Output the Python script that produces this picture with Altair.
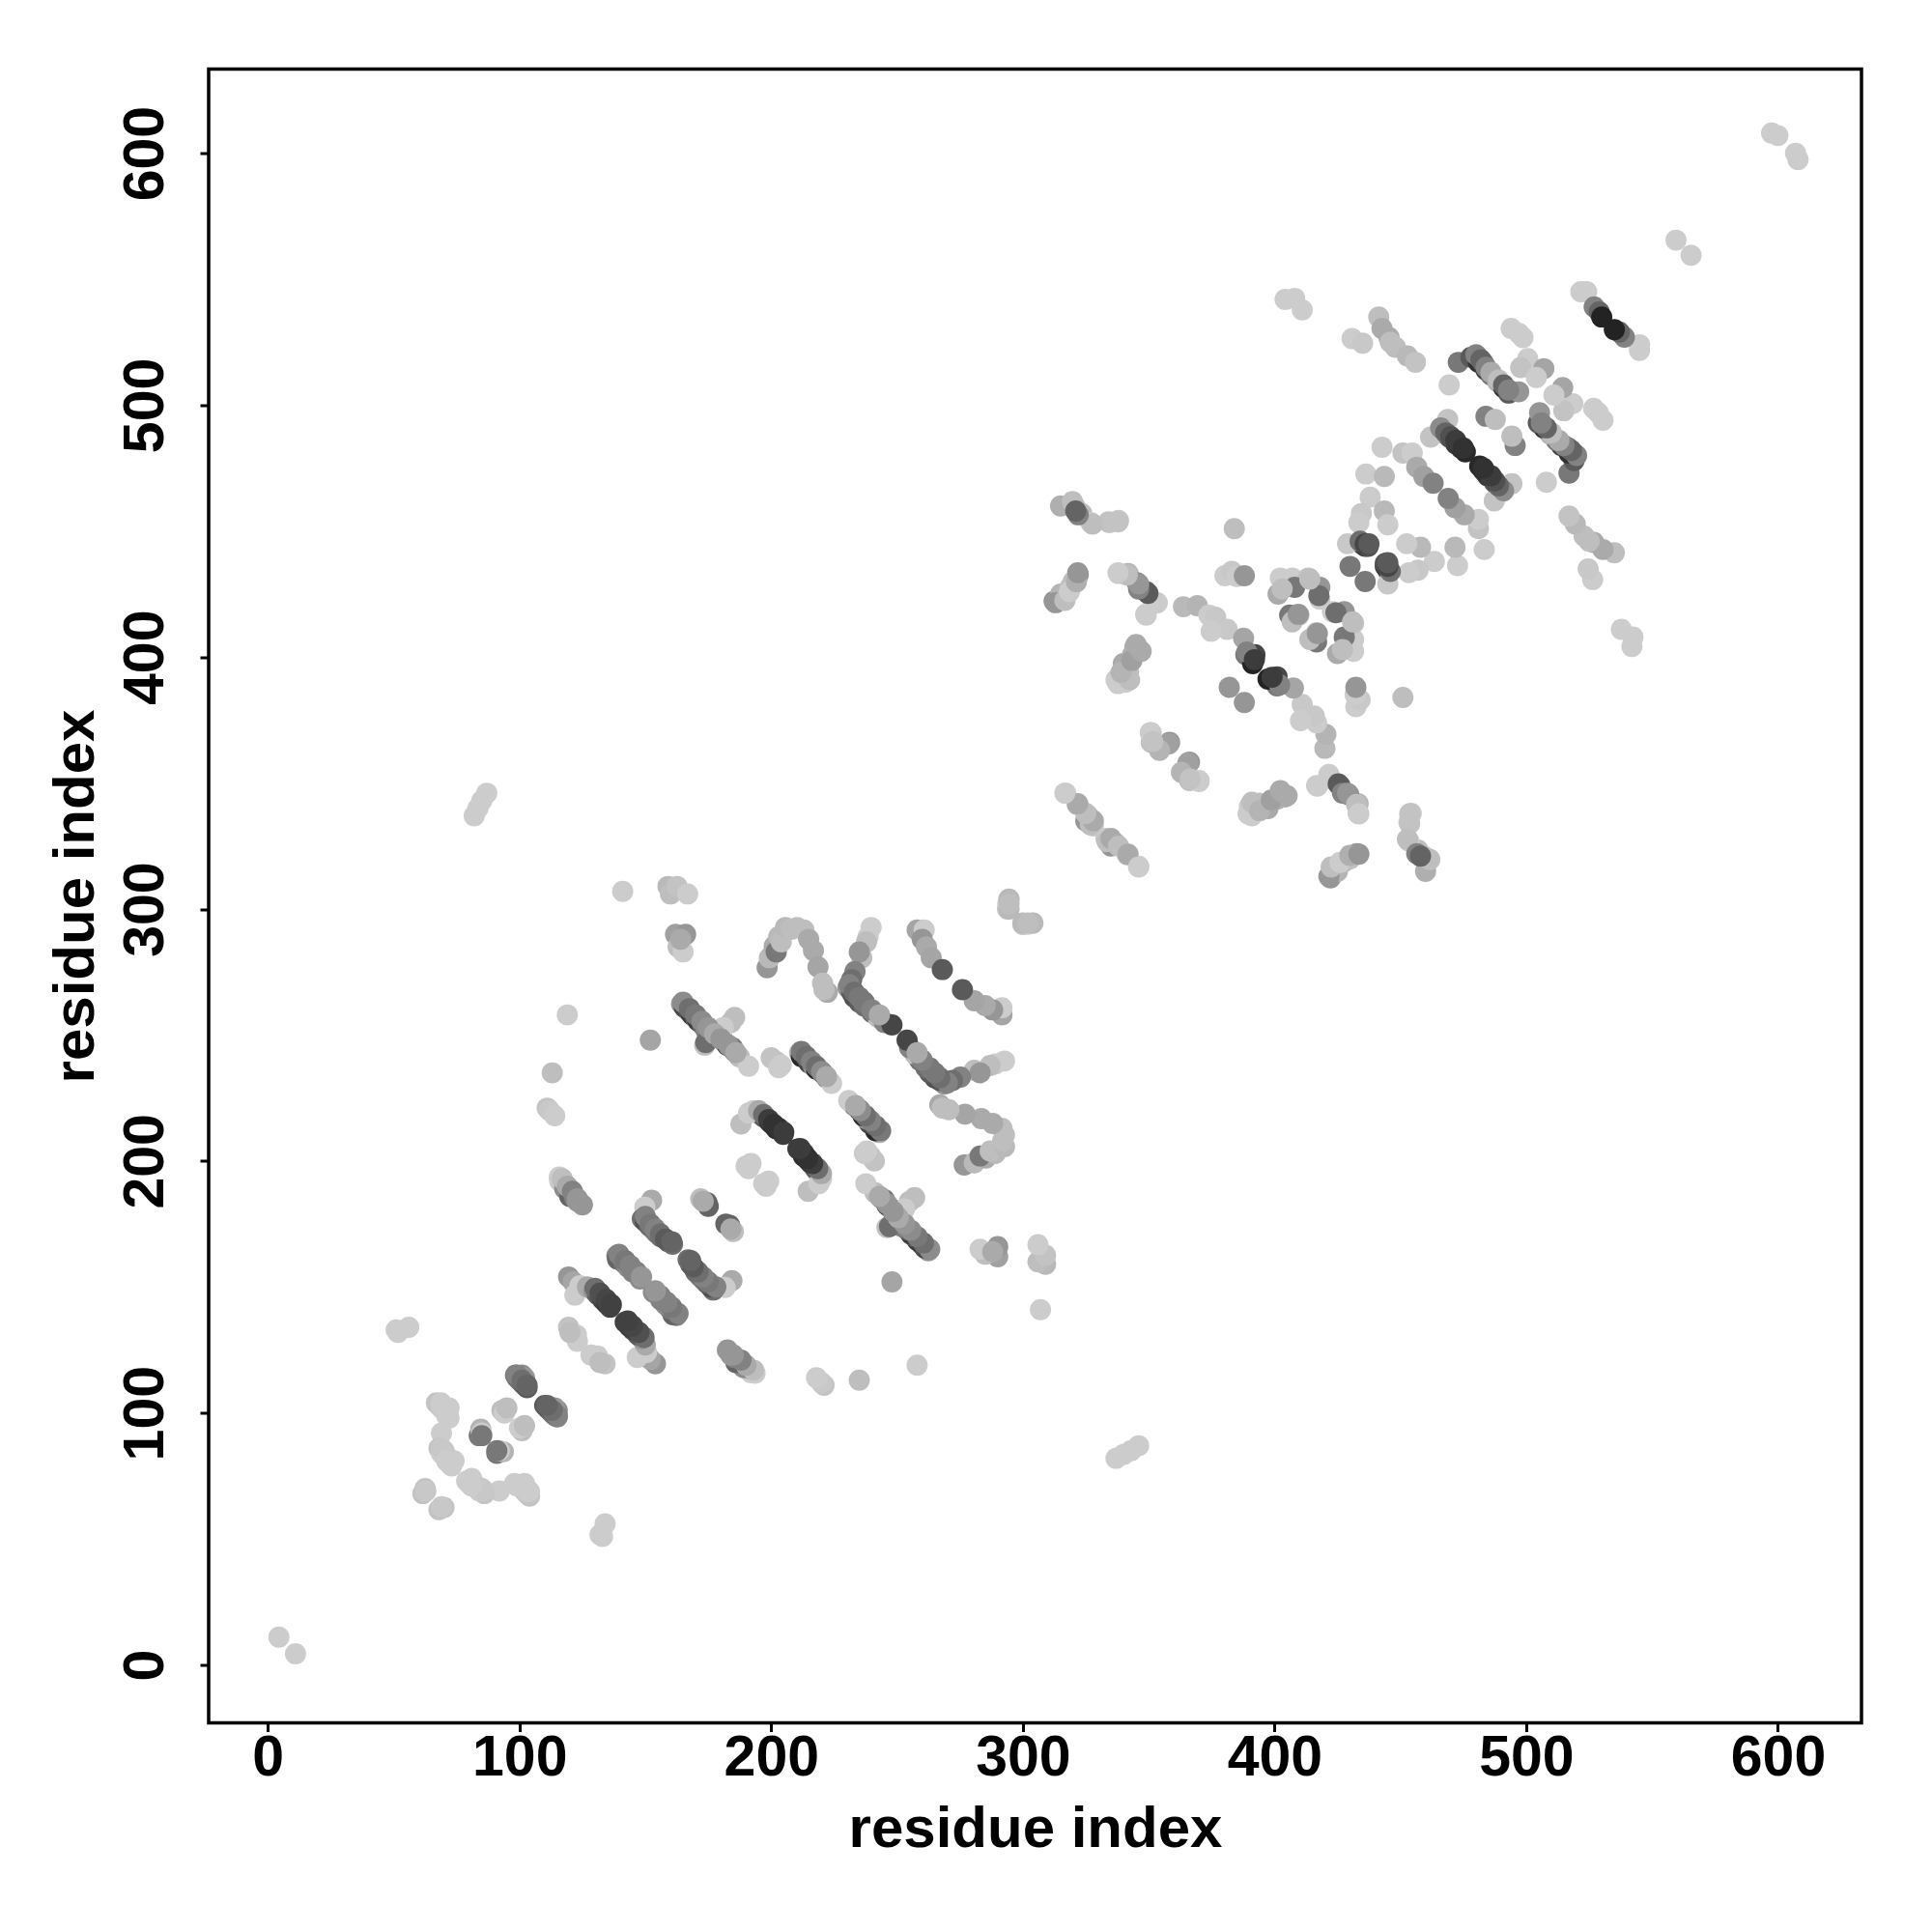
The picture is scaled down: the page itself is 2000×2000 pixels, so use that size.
import altair as alt
import pandas as pd

# contact pairs: (residue i, residue j, grey level 0-255)
ends = [(4.4,11,204),(597.5,608,204),(600,607,204),(559.5,565.5,204),
        (51.7,132,204),(56,134,204),(82,337,204),(83.5,340,204),(85,343,204),(87,346,204)]
block_n = [(61.6,68,195),(62.5,70,195),(62.8,69,200),(67,104,195),(68,103,195),(69,102,200),(71,99,204),
           (72,98,204),(69,92,204),(68,86,195),(69,84,204),(71,83,204),(74,81,204),(73,79,204),
           (70,85,200),(69,86,200),(71,81,204),(72,80,204),(84,91,120),(84.6,93.6,180),(85,92,204),
           (91,85,120),(93,101,190),(94,100,204),(95,102,190),(68.8,104,204),(72,102,204),(69,103,204),
           (98.4,115,130),(99,114,120),(100,113,110),(101,112,110),(102,111,100),(103,110,90),(101,115,140),(102,114,150),
           (51,133,204)]
block_a = [(115.8,193.6,204),(116,192,204),(117.6,190.8,190),(118,189,140),(120.4,188,170),(120,186,100),(122,185.3,130),
           (123,184,150),(125,182.6,150),(113,235,190),(111,221,195),(112,220,200),(114,218,204),
           (119,258,204),(141,307,204),(159,309,185),(160,306,190),(162.6,309,195),(166.8,306,204),(152,248,165),
           (162,290,160),(166,290,150),(163,285,190),(165,283,204),(164,288,170),
           (119.5,154,150),(121.3,152,165),(124,150.5,204),(122,146.8,204),(127,150,170),(129.5,148.6,150),(131,147,90),
           (133,145,70),(134.5,143.5,60),(136,142,65),
           (119.5,134,195),(122.6,131,204),(123,128.4,204),(120,132,190),
           (138.7,162.4,130),(139,161,100),(141.5,159.6,120),(143,158,140),(145,156,130),(147.9,153.2,140),
           (152.5,184.4,170),(149.8,181.7,204),(148.8,177,110),(150,176,80),(151.6,174.3,100),(153,173,110),
           (154.3,171.6,120),(156,170,110),(157,169.7,110),(159,168,90),(160.8,167,110),
           (172,185,190),(174.5,183.5,100),(175,182,100),(173,184,170)]
streaks_mid = [(164.4,262.4,150),(165.5,261,70),(167.2,259.6,80),(168.5,258,60),(170,256.9,90),(171,255.5,60),(172.7,254.1,100),
               (174,252,130),(176.4,250.5,110),(177,249,90),(181,247.7,120),(182.5,246,60),(184.6,245,120),(185.5,243.5,110),
               (187.4,241.3,190),(191,237.6,204),(185.5,257,190),(184,255,190),(181,253,204),(173.6,246,190),(174,247,110),
               (211.3,243,180),(212,241.5,40),(214,240.4,50),(215,239,70),(216.8,237.6,150),(218,236.5,40),(220.4,234.9,50),(222,233,130),(224,230.8,204),
               (193,220,204),(195.6,218.4,190),(197,217.5,90),(199.3,215.6,50),(200,215,60),(201,214,40),(202,212.8,45),(204.8,210.6,60),
               (188,214.7,190),(191,219,204),(190,198,204),(191,197,204),(192,199,204),(200,241,195),(202,239.5,195),(204,238,204),(203,237,204)]
arcs = [(198.4,276.7,150),(199.3,280.7,185),(201.2,285.3,170),(202,283,120),(203,289,185),(204,287,190),(205.7,292.7,185),(208,292,190),
        (210.3,292.7,190),(213,291.7,190),(214.9,288,170),(216.8,283.5,170),(218.6,277,165),(220.4,270.6,190),(222.3,267,170),(221,268,190),
        (239.7,292.7,204),(238.5,289,204),(237.9,287,190),(236,280.7,190),(235,283,150),(233.3,275.2,130),(232,272,110),(230.5,268.8,150),
        (232,267,90),(233,265,80),(235,263,90),(237,261.5,110),(240,259,110),(242.5,257,190),(245,255,130),(248,254,70),
        (258,291.7,165),(260.8,291.7,204),(260,288,150),(261.7,285,170),(263.6,280.7,165),(268,276,90),
        (294.4,303.7,190),(293.9,300,195),(294,302,204),(300,294.5,185),(304,294.5,185),(302,294.5,190)]
block_c = [(404.2,542,204),(408,542.4,204),(411,537.8,204),(430.8,526.4,204),(435,524.6,200),(441.4,535,190),(442.7,530.5,170),
           (445.5,526.8,170),(446,525,190),(448,523,190),(452.8,519.5,185),(456,517,195),(473,517,120),(478,519,90),(480.4,519.5,150),
           (481,517,50),(483,516.7,110),(484,514,60),(486,512,120),(488.6,509.4,180),(491,507,50),(493,504.8,90),(497,505.3,150),
           (494,530.5,204),(497,528.6,204),(498.7,526.8,204),(500.6,518.5,204),(497.8,514.9,195),(507,514.5,165),(504,511,204),(469.4,508,204),
           (521.7,545,204),(524,545,204),(527,539,130),(529,537,100),(530,535,35),
           (484,495.6,130),(487.7,494.3,190),(468.8,494.3,195),(465.7,490,165),(467,489,110),(469.4,487.3,90),(472,484.6,60),(474,483,50),(475.8,481.5,40),
           (462,487.3,195),(442.7,483.3,204),(451,481,195),(454.7,481,204),(456.5,475.4,170),(459.3,471.7,160),(463,469,130),
           (436.3,472.7,204),(438,463.5,204),(434.5,457,200),(433.5,453.4,204),(443.6,458,185),(445,452.5,204),(443.6,471.7,185),
           (434.5,445,90),(436,444,60),(437.2,444,80),(429,445,200),(430,436,120)]
block_d = [(384,451,190),(380.3,432.3,204),(383,434,200),(385,432,204),(388,432.3,150),
           (402.3,431.4,204),(407,431.4,204),(413.4,431.4,195),(418,427.7,150),(408,427.7,120),(401.4,425,170),(418,423,204),
           (406,416.7,120),(407,414,190),(409.7,416.7,190),(409.4,417,150),(417.6,424.4,110),(414,431,190),(403,427,190),
           (363.8,420,185),(369.3,420.4,180),(373.9,416.7,204),(376.6,415.8,200),(381.2,411,200),(387.7,407.5,165),(374.8,410.3,204),
           (388.6,401,120),(392.2,401,70),(391.3,397.4,35),(382,388,150)]
block_e = [(315,460,175),(319.7,461.7,190),(321,459,170),(323.4,457,190),(327,453.4,204),(334.4,453.4,204),(338,454.3,200),
           (312.4,422.2,150),(315,425,180),(318.8,427.7,190),(320,430,190),(322,432.7,150),
           (338,433.2,204),(341.8,433.2,180),(345.4,429.5,140),(349,426,100),(351.9,421.3,204),(349,416.7,204),
           (344.5,403.9,170),(343.6,401,175),(339.9,397.4,170),(337,391,204),(340.8,390,204),(342,394,190),
           (351,370,204),(351,366.2,190),(354.6,364.4,180),(358.3,366.2,150),(365.6,358,160),(363,354.3,180),(370,350.6,204),(366.5,351.6,195),
           (317,346,204),(321.6,341.5,180),(326,337,190),(325,335,150),(328,333,200),
           (333.5,326.8,190),(335,328,170),(338,325,190),(341.8,321.8,170),(346,316.7,204),
           (389.5,337.8,204),(391,342.4,190),(394,339,180),(398.7,343.3,160),(402.3,347,170),(405,345,170),
           (417,348.8,204),(421.6,353.4,204),(425.3,349.7,90),(427,346,130),(429,346,150),(432.6,341.5,190),(433.5,337.8,204),
           (421.6,313,150),(422.5,316.7,190),(426,318.5,204),(429.9,321.3,175),(433.5,321.8,150),
           (453.7,337.8,195),(453.7,334,195),(452.8,327.7,190),(456.5,322,130),(460.2,320.4,190),(458,321,100)]
# paler circles lying over the dark edges of the long streaks
overlay = [(150,178,130),(152,175,120),(154,173,130),(156,171,110),(158,169,90),(160.5,168,100),
           (139.5,163,130),(142,160.5,120),(144,158.5,130),(146.5,156,130),(148.5,154,150),
           (130,149.5,110),(132,147.5,80),(134.5,145,70),(136.5,143,65),
           (165,263,140),(167.5,260.5,110),(170,258,120),(172.5,255.5,140),(175,253,150),(177.5,250.5,170),(180,248.5,150),(183,246,150),(186,243,170),
           (212,243.5,120),(214,241.5,110),(216,239.5,130),(218,237.5,110),(220,235.5,140),(222,233.5,170),
           (195,220,170),(197,218.5,110),(199,216.5,60),(201,214.5,50),(203,213,50),(205,211.5,60),
           (231,270,130),(233,267,110),(235,265,120),(237,263,120),(240,260,130),(243,258,170),
           (466,491,140),(468,489,100),(470,487.5,80),(472,486,60),(475,483,50),
           (480,520,130),(482,518,100),(484,515,130),(486,513,170),(489,510,190),(491,508,100),(493,506,130),
           (389,402,130),(392,399,60),(434,446,110),(436,445,70),(437.5,445,90),
           (99,115,130),(101,113,110),(103,111,100),
           (117,193,190),(119,190,170),(121,188,130),(123,185,150)]

x_ticks = [0, 100, 200, 300, 400, 500, 600]
axis_title = "residue index"

pairs = ends + block_n + block_a + streaks_mid + arcs + block_c + block_d + block_e + overlay
rows = []
for i, j, g in pairs:
    c = f"rgb({g},{g},{g})"
    rows.append({"x": i, "y": j, "c": c})
    rows.append({"x": j, "y": i, "c": c})
df = pd.DataFrame(rows)

font = "Liberation Sans"
chart = (
    alt.Chart(df)
    .mark_circle(size=480, opacity=1)
    .encode(
        x=alt.X("x:Q", title=axis_title,
                scale=alt.Scale(domain=[-23.5, 633.2], nice=False, zero=False),
                axis=alt.Axis(values=x_ticks, grid=False, domain=False, tickColor="black", tickWidth=3, tickSize=9,
                              labelFont=font, labelFontWeight="bold", labelFontSize=59, labelColor="black",
                              labelPadding=-2, labelFlush=False, labelOverlap=False,
                              titleFont=font, titleFontWeight="bold", titleFontSize=60, titleColor="black",
                              titleY=81)),
        y=alt.Y("y:Q", title=axis_title,
                scale=alt.Scale(domain=[-23, 633.4], nice=False, zero=False),
                axis=alt.Axis(values=x_ticks, grid=False, domain=False, tickColor="black", tickWidth=3, tickSize=9,
                              labelFont=font, labelFontWeight="bold", labelFontSize=59, labelColor="black",
                              labelAngle=270, labelAlign="center", labelBaseline="bottom",
                              labelPadding=27, labelFlush=False, labelOverlap=False,
                              titleFont=font, titleFontWeight="bold", titleFontSize=60, titleColor="black",
                              titleX=-107)),
        color=alt.Color("c:N", scale=None),
    )
    .properties(width=1711, height=1712,
                autosize=alt.AutoSizeParams(type="none"),
                padding={"left": 208, "top": 63.5, "right": 60, "bottom": 200})
    .configure_view(stroke="black", strokeWidth=3.5)
)
chart.save("out.html", embed_options={"renderer": "svg", "actions": False})
